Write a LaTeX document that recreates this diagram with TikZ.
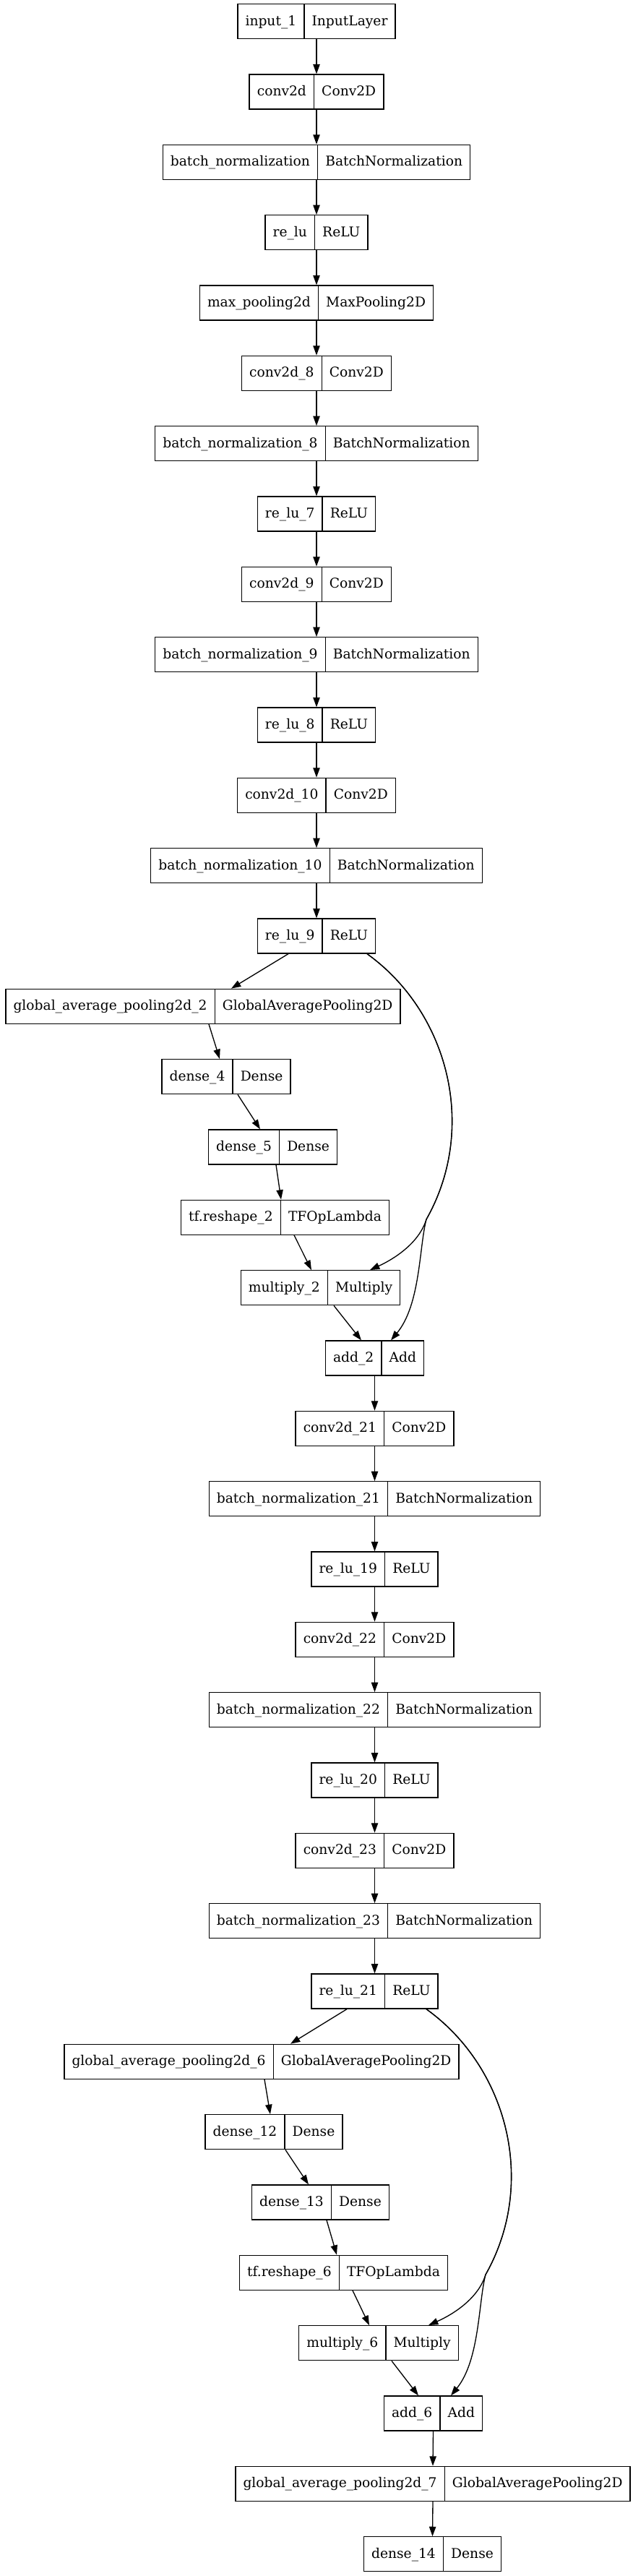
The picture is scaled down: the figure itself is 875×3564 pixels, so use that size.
\documentclass[tikz,border=0pt]{standalone}
\usepackage{fontspec}
\setmainfont{DejaVu Serif}
\usetikzlibrary{arrows.meta,calc}

\setlength{\tabcolsep}{8bp}
\setlength{\arrayrulewidth}{1bp}
% one record: layer name | layer class
\newcommand{\rec}[2]{\begin{tabular}{c|c}\rule[-13.9bp]{0pt}{36bp}#1 & #2\end{tabular}}

\tikzset{
  layer/.style={draw, line width=1bp, inner sep=0pt,
    font=\fontsize{14bp}{16bp}\selectfont},
  edge/.style={line width=1bp, -{Triangle[length=10bp,width=7bp]}}
}

\begin{document}
\begin{tikzpicture}[x=0.75bp, y=-0.75bp]
  \useasboundingbox (0,0) rectangle (875,3564);

  % stem
  \node[layer] (input1)  at (438,29.7)   {\rec{input\_1}{InputLayer}};
  \node[layer] (conv2d)  at (438,127)    {\rec{conv2d}{Conv2D}};
  \node[layer] (bn)      at (438,224.3)  {\rec{batch\_normalization}{BatchNormalization}};
  \node[layer] (relu)    at (438,321.7)  {\rec{re\_lu}{ReLU}};
  \node[layer] (maxpool) at (438,419)    {\rec{max\_pooling2d}{MaxPooling2D}};
  \node[layer] (conv8)   at (438,516.3)  {\rec{conv2d\_8}{Conv2D}};
  \node[layer] (bn8)     at (438,613.7)  {\rec{batch\_normalization\_8}{BatchNormalization}};
  \node[layer] (relu7)   at (438,711)    {\rec{re\_lu\_7}{ReLU}};
  \node[layer] (conv9)   at (438,808.3)  {\rec{conv2d\_9}{Conv2D}};
  \node[layer] (bn9)     at (438,905.7)  {\rec{batch\_normalization\_9}{BatchNormalization}};
  \node[layer] (relu8)   at (438,1003)   {\rec{re\_lu\_8}{ReLU}};
  \node[layer] (conv10)  at (438,1100.3) {\rec{conv2d\_10}{Conv2D}};
  \node[layer] (bn10)    at (438,1197.7) {\rec{batch\_normalization\_10}{BatchNormalization}};
  \node[layer] (relu9)   at (438,1295)   {\rec{re\_lu\_9}{ReLU}};

  % first attention block
  \node[layer] (gap2)     at (281,1392.3)   {\rec{global\_average\_pooling2d\_2}{GlobalAveragePooling2D}};
  \node[layer] (dense4)   at (313,1489.7)   {\rec{dense\_4}{Dense}};
  \node[layer] (dense5)   at (377.5,1587)   {\rec{dense\_5}{Dense}};
  \node[layer] (reshape2) at (394.5,1684.3) {\rec{tf.reshape\_2}{TFOpLambda}};
  \node[layer] (mult2)    at (443.5,1781.7) {\rec{multiply\_2}{Multiply}};
  \node[layer] (add2)     at (518.5,1879)   {\rec{add\_2}{Add}};

  \node[layer] (conv21) at (518.5,1976.3) {\rec{conv2d\_21}{Conv2D}};
  \node[layer] (bn21)   at (518.5,2073.7) {\rec{batch\_normalization\_21}{BatchNormalization}};
  \node[layer] (relu19) at (518.5,2171)   {\rec{re\_lu\_19}{ReLU}};
  \node[layer] (conv22) at (518.5,2268.3) {\rec{conv2d\_22}{Conv2D}};
  \node[layer] (bn22)   at (518.5,2365.7) {\rec{batch\_normalization\_22}{BatchNormalization}};
  \node[layer] (relu20) at (518.5,2463)   {\rec{re\_lu\_20}{ReLU}};
  \node[layer] (conv23) at (518.5,2560.3) {\rec{conv2d\_23}{Conv2D}};
  \node[layer] (bn23)   at (518.5,2657.7) {\rec{batch\_normalization\_23}{BatchNormalization}};
  \node[layer] (relu21) at (518.5,2755)   {\rec{re\_lu\_21}{ReLU}};

  % second attention block
  \node[layer] (gap6)     at (362,2852.3)   {\rec{global\_average\_pooling2d\_6}{GlobalAveragePooling2D}};
  \node[layer] (dense12)  at (379,2949.7)   {\rec{dense\_12}{Dense}};
  \node[layer] (dense13)  at (443.5,3047)   {\rec{dense\_13}{Dense}};
  \node[layer] (reshape6) at (475.5,3144.3) {\rec{tf.reshape\_6}{TFOpLambda}};
  \node[layer] (mult6)    at (524,3241.7)   {\rec{multiply\_6}{Multiply}};
  \node[layer] (add6)     at (599.5,3339)   {\rec{add\_6}{Add}};

  % head
  \node[layer] (gap7)    at (599,3436.3)   {\rec{global\_average\_pooling2d\_7}{GlobalAveragePooling2D}};
  \node[layer] (dense14) at (598.5,3533.7) {\rec{dense\_14}{Dense}};

  % straight links
  \foreach \a/\b in {input1/conv2d, conv2d/bn, bn/relu, relu/maxpool,
      maxpool/conv8, conv8/bn8, bn8/relu7, relu7/conv9, conv9/bn9,
      bn9/relu8, relu8/conv10, conv10/bn10, bn10/relu9,
      add2/conv21, conv21/bn21, bn21/relu19, relu19/conv22, conv22/bn22,
      bn22/relu20, relu20/conv23, conv23/bn23, bn23/relu21,
      add6/gap7, gap7/dense14}
    \draw[edge] (\a.south) -- (\b.north);

  % block 1
  \draw[edge] ($(relu9.south)+(-39,0)$) -- ($(gap2.north)+(39,0)$);
  \draw[edge] ($(gap2.south)+(8,0)$) -- ($(dense4.north)+(-9,0)$);
  \draw[edge] ($(dense4.south)+(16,0)$) -- ($(dense5.north)+(-17.5,0)$);
  \draw[edge] ($(dense5.south)+(4.5,0)$) -- ($(reshape2.north)+(-5.5,0)$);
  \draw[edge] ($(reshape2.south)+(12.5,0)$) -- ($(mult2.north)+(-12.5,0)$);
  \draw[edge] ($(mult2.south)+(18.5,0)$) -- ($(add2.north)+(-18.5,0)$);
  \coordinate (split2) at (590,1687);
  \draw[edge] ($(relu9.south)+(70,0)$) .. controls (620,1400) and (662,1560) .. (split2)
    .. controls (580,1720) and (545,1742) .. ($(mult2.north)+(68.5,0)$);
  \draw[edge] ($(relu9.south)+(70,0)$) .. controls (620,1400) and (662,1560) .. (split2)
    .. controls (580,1725) and (582,1805) .. ($(add2.north)+(22.5,0)$);

  % block 2
  \draw[edge] ($(relu21.south)+(-38.5,0)$) -- ($(gap6.north)+(40,0)$);
  \draw[edge] ($(gap6.south)+(4,0)$) -- ($(dense12.north)+(-5,0)$);
  \draw[edge] ($(dense12.south)+(16,0)$) -- ($(dense13.north)+(-16.5,0)$);
  \draw[edge] ($(dense13.south)+(8.5,0)$) -- ($(reshape6.north)+(-9.5,0)$);
  \draw[edge] ($(reshape6.south)+(12.5,0)$) -- ($(mult6.north)+(-13,0)$);
  \draw[edge] ($(mult6.south)+(18,0)$) -- ($(add6.north)+(-20.5,0)$);
  \coordinate (split6) at (672,3147);
  \draw[edge] ($(relu21.south)+(71.5,0)$) .. controls (702,2860) and (744,3020) .. (split6)
    .. controls (662,3180) and (627,3202) .. ($(mult6.north)+(69,0)$);
  \draw[edge] ($(relu21.south)+(71.5,0)$) .. controls (702,2860) and (744,3020) .. (split6)
    .. controls (662,3185) and (664,3265) .. ($(add6.north)+(24.5,0)$);
\end{tikzpicture}
\end{document}
